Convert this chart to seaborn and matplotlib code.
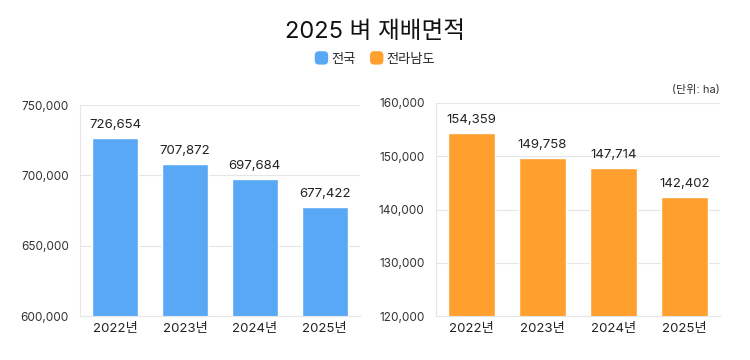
import matplotlib

matplotlib.use("Agg")
import matplotlib.pyplot as plt
from matplotlib.patches import FancyBboxPatch
from matplotlib.legend_handler import HandlerPatch
import pandas as pd
import seaborn as sns

years = ["2022년", "2023년", "2024년", "2025년"]
national = [726654, 707872, 697684, 677422]
jeonnam = [154359, 149758, 147714, 142402]
national_ticks = [600000, 650000, 700000, 750000]
jeonnam_ticks = [120000, 130000, 140000, 150000, 160000]

BLUE = "#59A8F6"
ORANGE = "#FFA02E"
GRID = "#E6E6E6"

sns.set_theme(style="white")
plt.rcParams["font.family"] = ["Inter", "Noto Sans CJK KR", "DejaVu Sans"]

fig = plt.figure(figsize=(7.5, 3.6), dpi=100)
ax1 = fig.add_axes([0.1067, 0.122, 0.373, 0.586])
ax2 = fig.add_axes([0.581, 0.122, 0.379, 0.592])


def draw(ax, values, ticks, color):
    df = pd.DataFrame({"year": years, "value": values})
    sns.barplot(data=df, x="year", y="value", color=color, width=0.66,
                saturation=1, ax=ax, zorder=2)
    ax.set_ylim(ticks[0], ticks[-1])
    ax.set_yticks(ticks)
    ax.set_yticklabels([f"{t:,}" for t in ticks], fontsize=8.5, color="#333333")
    ax.tick_params(axis="x", labelsize=9.5, colors="#222222", length=0, pad=5)
    ax.tick_params(axis="y", length=0, pad=8)
    ax.set_xlabel("")
    ax.set_ylabel("")
    ax.set_xlim(-0.5, len(years) - 0.5)
    ax.grid(axis="y", color=GRID, linewidth=0.8, zorder=0)
    for s in ["top", "right"]:
        ax.spines[s].set_visible(False)
    for s in ["left", "bottom"]:
        ax.spines[s].set_color(GRID)
        ax.spines[s].set_linewidth(0.8)
    for i, v in enumerate(values):
        ax.annotate(f"{v:,}", (i, v), xytext=(0, 5), textcoords="offset points",
                    ha="center", va="bottom", fontsize=9.5, color="#222222")


draw(ax1, national, national_ticks, BLUE)
draw(ax2, jeonnam, jeonnam_ticks, ORANGE)

fig.text(0.5, 0.91, "2025 벼 재배면적", ha="center", va="center",
         fontsize=17, color="#111111")
fig.text(0.96, 0.75, "(단위: ha)", ha="right", va="center",
         fontsize=8, color="#333333")


class RoundHandler(HandlerPatch):
    def create_artists(self, legend, orig_handle, xdescent, ydescent,
                       width, height, fontsize, trans):
        size = height * 1.45
        p = FancyBboxPatch((width / 2 - size / 2 - xdescent, height / 2 - size / 2 - ydescent),
                           size, size, boxstyle="round,pad=0,rounding_size=3",
                           facecolor=orig_handle.get_facecolor(), edgecolor="none",
                           transform=trans)
        return [p]


handles = [plt.Rectangle((0, 0), 1, 1, color=BLUE),
           plt.Rectangle((0, 0), 1, 1, color=ORANGE)]
fig.legend(handles, ["전국", "전라남도"], loc="center", bbox_to_anchor=(0.5, 0.835),
           ncol=2, frameon=False, fontsize=9.5, handlelength=1.0,
           handletextpad=0.25, columnspacing=1.1,
           handler_map={plt.Rectangle: RoundHandler()})

fig.savefig("out.png", dpi=100)
